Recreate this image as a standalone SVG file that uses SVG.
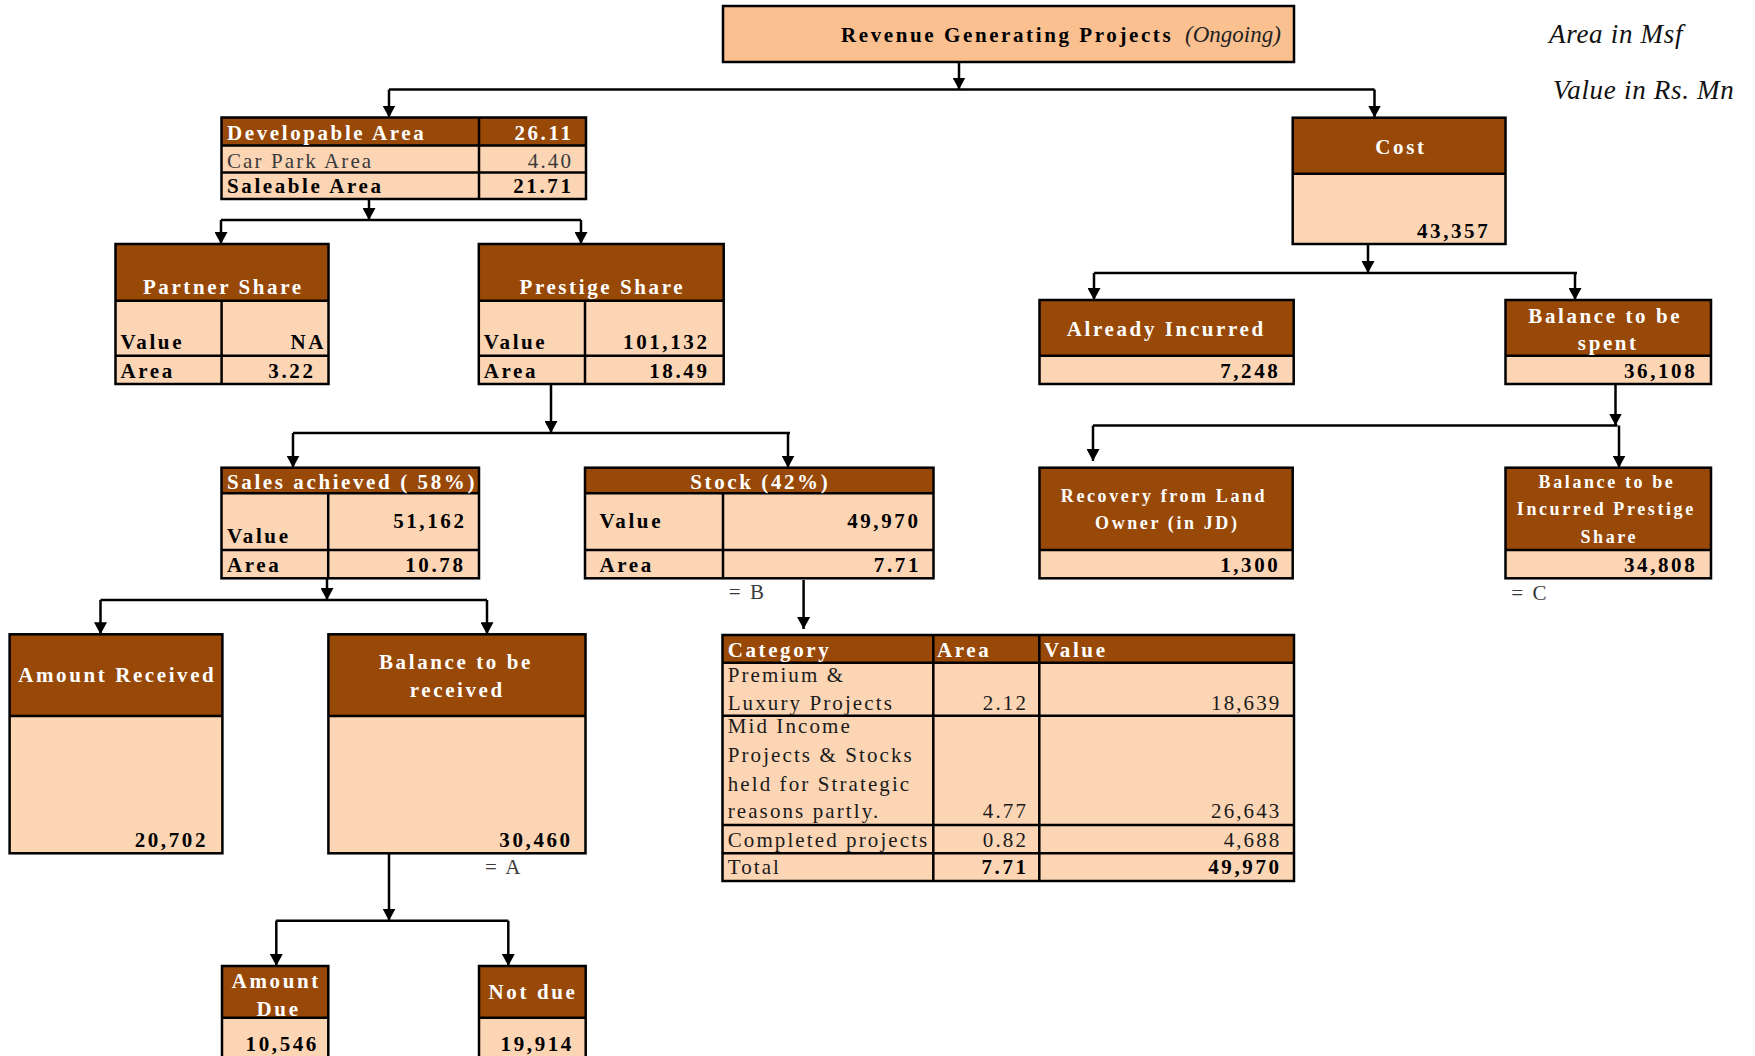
<svg xmlns="http://www.w3.org/2000/svg" width="1755" height="1056" viewBox="0 0 1755 1056">
<defs>
<marker id="arr" markerUnits="userSpaceOnUse" viewBox="0 0 12 13" markerWidth="12" markerHeight="13" refX="12" refY="6.5" orient="auto">
<path d="M0,0 L12,6.5 L0,13 z" fill="#000"/>
</marker>
<style>
text { font-family: "Liberation Serif", "DejaVu Serif", serif; font-size: 21px; }
.hd { fill: #984807; }
.bd { fill: #FCD5B5; }
.ttl { fill: #FAC090; }
.fr { fill: none; stroke: #000; stroke-width: 2.5; }
.gl { fill: none; stroke: #000; stroke-width: 2.5; }
.w { fill: #fff; font-weight: bold; letter-spacing: 2.6px; }
.b { fill: #000; font-weight: bold; letter-spacing: 2.6px; }
.r { fill: #1a1a1a; letter-spacing: 2.1px; }
.g { fill: #3a3a3a; letter-spacing: 2.1px; }
.s18 { font-size: 18px; }
.e { text-anchor: end; }
.m { text-anchor: middle; }
.note { font-style: italic; font-size: 27px; fill: #111; letter-spacing: 0.7px; }
.cn path { fill: none; stroke: #000; stroke-width: 2.5; }
.cn .a { marker-end: url(#arr); }
</style>
</defs>

<rect width="1755" height="1056" fill="#fff"/>

<!-- unit notes -->
<text class="note" x="1549" y="43">Area in Msf</text>
<text class="note" x="1553" y="99">Value in Rs. Mn</text>

<!-- connectors -->
<g id="connectors" class="cn">
<path class="a" d="M959,62V89.5"/>
<path d="M389,89.5H1374.5"/>
<path class="a" d="M389,89.5V117.5"/>
<path class="a" d="M1374.5,89.5V117.5"/>

<path class="a" d="M369,199V220"/>
<path d="M221,220H581"/>
<path class="a" d="M221,220V244"/>
<path class="a" d="M581,220V244"/>

<path class="a" d="M551,384V433"/>
<path d="M293,433H790"/>
<path class="a" d="M293,433V467.7"/>
<path class="a" d="M788,433V467.7"/>

<path class="a" d="M327,578.3V600"/>
<path d="M100.5,600H487"/>
<path class="a" d="M100.5,600V634.3"/>
<path class="a" d="M487,600V634.3"/>

<path class="a" d="M389,853.3V920.7"/>
<path d="M276,920.7H508.3"/>
<path class="a" d="M276.3,920.7V966"/>
<path class="a" d="M508.3,920.7V966"/>

<path class="a" d="M803.6,580V629"/>

<path class="a" d="M1368,244V273"/>
<path d="M1094,273H1577"/>
<path class="a" d="M1094,273V300"/>
<path class="a" d="M1575,273V300"/>

<path class="a" d="M1615.5,384V425.5"/>
<path d="M1093,425.5H1617.5"/>
<path class="a" d="M1093,425.5V461"/>
<path class="a" d="M1619,425.5V467.7"/>
</g>

<!-- root -->
<g id="revenue-projects">
<rect class="ttl" x="723" y="6" width="571" height="56"/>
<rect class="fr" x="723" y="6" width="571" height="56"/>
<text class="b" x="841" y="41.5">Revenue Generating Projects</text>
<text x="1185" y="41.5" style="font-style:italic;font-size:23px;fill:#222">(Ongoing)</text>
</g>

<!-- area breakdown -->
<g id="developable-area">
<rect class="hd" x="221.5" y="117.5" width="364.5" height="28"/>
<rect class="bd" x="221.5" y="145.5" width="364.5" height="53.5"/>
<rect class="fr" x="221.5" y="117.5" width="364.5" height="81.5"/>
<path class="gl" d="M221.5,145.5H586M221.5,172.5H586M479,117.5V199"/>
<text class="w" x="227" y="140">Developable Area</text>
<text class="w e" x="573.5" y="140">26.11</text>
<text class="g" x="227" y="168">Car Park Area</text>
<text class="g e" x="573" y="168">4.40</text>
<text class="b" x="227" y="193">Saleable Area</text>
<text class="b e" x="573.5" y="193">21.71</text>
</g>

<g id="partner-share">
<rect class="hd" x="115.5" y="244" width="213" height="56.7"/>
<rect class="bd" x="115.5" y="300.7" width="213" height="83.3"/>
<rect class="fr" x="115.5" y="244" width="213" height="140"/>
<path class="gl" d="M115.5,300.7H328.5M115.5,355.7H328.5M221.6,300.7V384"/>
<text class="w m" x="223.3" y="294">Partner Share</text>
<text class="b" x="120.5" y="349">Value</text>
<text class="b e" x="326" y="349">NA</text>
<text class="b" x="120.5" y="378">Area</text>
<text class="b e" x="315.5" y="378">3.22</text>
</g>

<g id="prestige-share">
<rect class="hd" x="478.8" y="244" width="244.9" height="56.7"/>
<rect class="bd" x="478.8" y="300.7" width="244.9" height="83.3"/>
<rect class="fr" x="478.8" y="244" width="244.9" height="140"/>
<path class="gl" d="M478.8,300.7H723.7M478.8,355.7H723.7M585,300.7V384"/>
<text class="w m" x="602.3" y="294">Prestige Share</text>
<text class="b" x="483.7" y="349">Value</text>
<text class="b e" x="709.5" y="349">101,132</text>
<text class="b" x="483.7" y="378">Area</text>
<text class="b e" x="709.5" y="378">18.49</text>
</g>

<g id="sales-achieved">
<rect class="hd" x="221.5" y="467.7" width="257.5" height="25.6"/>
<rect class="bd" x="221.5" y="493.3" width="257.5" height="85"/>
<rect class="fr" x="221.5" y="467.7" width="257.5" height="110.6"/>
<path class="gl" d="M221.5,493.3H479M221.5,550H479M328.2,493.3V578.3"/>
<text class="w" x="227" y="489.3">Sales achieved ( 58%)</text>
<text class="b e" x="466.5" y="528">51,162</text>
<text class="b" x="227" y="543.3">Value</text>
<text class="b" x="227" y="571.7">Area</text>
<text class="b e" x="465.5" y="571.7">10.78</text>
</g>

<g id="stock">
<rect class="hd" x="585" y="467.7" width="348.5" height="25.6"/>
<rect class="bd" x="585" y="493.3" width="348.5" height="85"/>
<rect class="fr" x="585" y="467.7" width="348.5" height="110.6"/>
<path class="gl" d="M585,493.3H933.5M585,550H933.5M723,493.3V578.3"/>
<text class="w m" x="760.3" y="489.3">Stock (42%)</text>
<text class="b" x="599.5" y="528.3">Value</text>
<text class="b e" x="920.5" y="528.3">49,970</text>
<text class="b" x="599.5" y="571.7">Area</text>
<text class="b e" x="921" y="571.7">7.71</text>
<text class="g" x="728.7" y="599">= B</text>
</g>

<!-- stock by category -->
<g id="stock-category">
<rect class="hd" x="722.5" y="635" width="571.5" height="27.7"/>
<rect class="bd" x="722.5" y="662.7" width="571.5" height="218.3"/>
<rect class="fr" x="722.5" y="635" width="571.5" height="246"/>
<path class="gl" d="M722.5,662.7H1294M722.5,715.7H1294M722.5,825H1294M722.5,853.3H1294M933.3,635V881M1039.3,635V881"/>
<text class="w" x="727.7" y="656.7">Category</text>
<text class="w" x="937" y="656.7">Area</text>
<text class="w" x="1044" y="656.7">Value</text>
<text class="r" x="727.7" y="681.7">Premium &amp;</text>
<text class="r" x="727.7" y="710">Luxury Projects</text>
<text class="r e" x="1028" y="710">2.12</text>
<text class="r e" x="1281.4" y="710">18,639</text>
<text class="r" x="727.7" y="733.3">Mid Income</text>
<text class="r" x="727.7" y="762.3">Projects &amp; Stocks</text>
<text class="r" x="727.7" y="790.7">held for Strategic</text>
<text class="r" x="727.7" y="818.3">reasons partly.</text>
<text class="r e" x="1028" y="818.3">4.77</text>
<text class="r e" x="1281.4" y="818.3">26,643</text>
<text class="r" x="727.7" y="846.7">Completed projects</text>
<text class="r e" x="1028" y="846.7">0.82</text>
<text class="r e" x="1281.4" y="846.7">4,688</text>
<text class="r" x="727.7" y="874.3">Total</text>
<text class="b e" x="1028.6" y="874.3">7.71</text>
<text class="b e" x="1281.6" y="874.3">49,970</text>
</g>

<!-- collections -->
<g id="amount-received">
<rect class="hd" x="9.6" y="634.3" width="212.8" height="81.7"/>
<rect class="bd" x="9.6" y="716" width="212.8" height="137.3"/>
<rect class="fr" x="9.6" y="634.3" width="212.8" height="219"/>
<path class="gl" d="M9.6,716H222.4"/>
<text class="w m" x="117.3" y="681.7">Amount Received</text>
<text class="b e" x="208" y="846.7">20,702</text>
</g>

<g id="balance-received">
<rect class="hd" x="328.4" y="634.3" width="257.1" height="81.7"/>
<rect class="bd" x="328.4" y="716" width="257.1" height="137.3"/>
<rect class="fr" x="328.4" y="634.3" width="257.1" height="219"/>
<path class="gl" d="M328.4,716H585.5"/>
<text class="w m" x="456" y="669.3">Balance to be</text>
<text class="w m" x="457.3" y="696.7">received</text>
<text class="b e" x="572.7" y="846.7">30,460</text>
<text class="g" x="485" y="874">= A</text>
</g>

<g id="amount-due">
<rect class="hd" x="222" y="966" width="106.3" height="51.7"/>
<rect class="bd" x="222" y="1017.7" width="106.3" height="60"/>
<rect class="fr" x="222" y="966" width="106.3" height="111.7"/>
<path class="gl" d="M222,1017.7H328.3"/>
<text class="w m" x="276.3" y="987.7">Amount</text>
<text class="w m" x="278.6" y="1015.7">Due</text>
<text class="b m" x="282.3" y="1051">10,546</text>
</g>

<g id="not-due">
<rect class="hd" x="479" y="966" width="106.7" height="51.7"/>
<rect class="bd" x="479" y="1017.7" width="106.7" height="60"/>
<rect class="fr" x="479" y="966" width="106.7" height="111.7"/>
<path class="gl" d="M479,1017.7H585.7"/>
<text class="w m" x="533" y="999">Not due</text>
<text class="b m" x="537.3" y="1051">19,914</text>
</g>

<!-- cost breakdown -->
<g id="cost">
<rect class="hd" x="1292.7" y="117.7" width="212.8" height="56"/>
<rect class="bd" x="1292.7" y="173.7" width="212.8" height="70.3"/>
<rect class="fr" x="1292.7" y="117.7" width="212.8" height="126.3"/>
<path class="gl" d="M1292.7,173.7H1505.5"/>
<text class="w m" x="1400.9" y="154">Cost</text>
<text class="b e" x="1490.3" y="237.7">43,357</text>
</g>

<g id="already-incurred">
<rect class="hd" x="1039.5" y="300" width="254.2" height="55.7"/>
<rect class="bd" x="1039.5" y="355.7" width="254.2" height="28.3"/>
<rect class="fr" x="1039.5" y="300" width="254.2" height="84"/>
<path class="gl" d="M1039.5,355.7H1293.7"/>
<text class="w m" x="1166.3" y="335.7">Already Incurred</text>
<text class="b e" x="1280.4" y="378.3">7,248</text>
</g>

<g id="balance-spent">
<rect class="hd" x="1505.5" y="300" width="205.5" height="55.7"/>
<rect class="bd" x="1505.5" y="355.7" width="205.5" height="28.3"/>
<rect class="fr" x="1505.5" y="300" width="205.5" height="84"/>
<path class="gl" d="M1505.5,355.7H1711"/>
<text class="w m" x="1605.3" y="322.7">Balance to be</text>
<text class="w m" x="1608.3" y="350">spent</text>
<text class="b e" x="1697.3" y="378.3">36,108</text>
</g>

<g id="recovery-land-owner">
<rect class="hd" x="1039.5" y="467.7" width="253.2" height="82.3"/>
<rect class="bd" x="1039.5" y="550" width="253.2" height="28.3"/>
<rect class="fr" x="1039.5" y="467.7" width="253.2" height="110.6"/>
<path class="gl" d="M1039.5,550H1292.7"/>
<text class="w m s18" x="1164" y="501.7">Recovery from Land</text>
<text class="w m s18" x="1167.3" y="529.3">Owner (in JD)</text>
<text class="b e" x="1280.4" y="571.7">1,300</text>
</g>

<g id="balance-incurred">
<rect class="hd" x="1505.5" y="467.7" width="205.5" height="82.3"/>
<rect class="bd" x="1505.5" y="550" width="205.5" height="28.3"/>
<rect class="fr" x="1505.5" y="467.7" width="205.5" height="110.6"/>
<path class="gl" d="M1505.5,550H1711"/>
<text class="w m s18" x="1607" y="488.3">Balance to be</text>
<text class="w m s18" x="1606.3" y="515">Incurred Prestige</text>
<text class="w m s18" x="1609.3" y="542.7">Share</text>
<text class="b e" x="1697.3" y="571.7">34,808</text>
<text class="g" x="1511.3" y="600">= C</text>
</g>
</svg>
